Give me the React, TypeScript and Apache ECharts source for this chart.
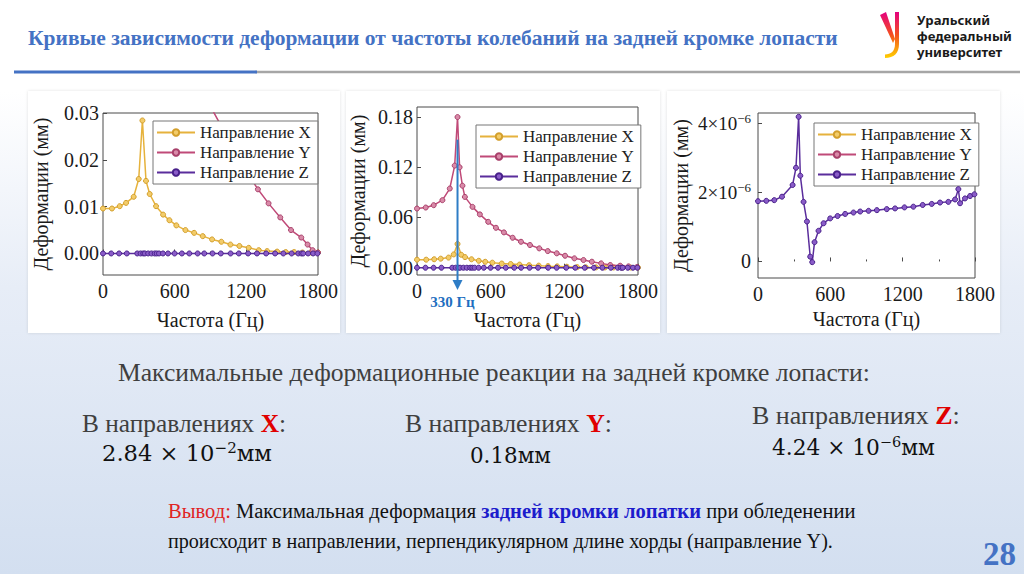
import React, { useEffect, useRef } from 'react';
import * as echarts from 'echarts';

// ---------- data ----------
const SERIES_NAMES = ['Направление X', 'Направление Y', 'Направление Z'];

// X direction (charts 1 & 2), Hz / mm
const FREQ_X = [0, 75, 140, 193, 257, 299, 330, 360, 391, 444, 503, 556, 614, 690, 763, 835, 913, 991, 1067, 1142, 1220, 1304, 1374, 1458, 1530, 1600, 1670, 1740, 1800];
const DEF_X = [0.0096, 0.0096, 0.0101, 0.0108, 0.0121, 0.0159, 0.0284, 0.0155, 0.0127, 0.0101, 0.0083, 0.0071, 0.006, 0.005, 0.0044, 0.0037, 0.003, 0.0025, 0.0019, 0.0016, 0.0012, 0.0007, 0.0005, 0.0004, 0.0003, 0.0003, 0.0002, 0.0002, 0.0002];

// Y direction as drawn in chart 1
const FREQ_Y1 = [780, 860, 926, 990, 1060, 1130, 1210, 1297, 1386, 1484, 1574, 1660, 1713, 1755, 1800];
const DEF_Y1 = [0.04, 0.0345, 0.0302, 0.0272, 0.0238, 0.0206, 0.0172, 0.0137, 0.0107, 0.0077, 0.005, 0.0034, 0.0019, 0.0007, 0.0002];

// Y direction as drawn in chart 2
const FREQ_Y2 = [0, 71, 136, 207, 267, 307, 330, 347, 370, 390, 452, 512, 580, 643, 708, 779, 847, 920, 996, 1065, 1138, 1206, 1282, 1356, 1424, 1500, 1574, 1655, 1723, 1792];
const DEF_Y2 = [0.0707, 0.0719, 0.0747, 0.0807, 0.0946, 0.122, 0.18, 0.12, 0.098, 0.0846, 0.0727, 0.0637, 0.0548, 0.0477, 0.0422, 0.0358, 0.031, 0.0271, 0.0231, 0.0199, 0.0172, 0.0143, 0.0112, 0.0092, 0.0072, 0.0052, 0.0032, 0.0024, 0.0016, 0.0008];

// Z direction (all charts)
const FREQ_Z = [0, 69, 135, 199, 287, 315, 337, 351, 378, 406, 433, 450, 469, 502, 544, 599, 660, 723, 792, 848, 917, 986, 1068, 1137, 1215, 1289, 1366, 1441, 1510, 1579, 1635, 1662, 1676, 1717, 1759, 1795];
const DEF_Z = [1.75e-6, 1.76e-6, 1.78e-6, 1.88e-6, 2.22e-6, 2.72e-6, 4.2e-6, 2.49e-6, 1.73e-6, 1.16e-6, 0.14e-6, -0.02e-6, 0.56e-6, 0.89e-6, 1.11e-6, 1.25e-6, 1.32e-6, 1.38e-6, 1.42e-6, 1.45e-6, 1.47e-6, 1.49e-6, 1.52e-6, 1.54e-6, 1.57e-6, 1.59e-6, 1.64e-6, 1.67e-6, 1.71e-6, 1.73e-6, 1.8e-6, 2.1e-6, 1.69e-6, 1.83e-6, 1.9e-6, 1.95e-6];

const X_TICKS = [0, 600, 1200, 1800];
const Y_TICKS_1 = [0, 0.01, 0.02, 0.03];
const Y_TICKS_2 = [0, 0.06, 0.12, 0.18];
const Y_TICKS_3 = [0, 2e-6, 4e-6];
const Y_RANGES = [[-0.0046, 0.03], [-0.0087, 0.192], [-0.48e-6, 4.31e-6]];

const PEAK_FREQ = 330;
const ARROW_TOP = 0.153;
const PEAK_LABEL = '330 Гц';
const LOGO_LINES = ['Уральский', 'федеральный', 'университет'];

// ---------- styling ----------
const SERIF = 'Liberation Serif, DejaVu Serif, serif';
const MATH = 'DejaVu Serif, Liberation Serif, serif';
const SANS = 'Noto Sans, DejaVu Sans, sans-serif';
const COLORS = [
  { line: '#e6b23c', fill: '#f3cc6a', border: '#d39f2c' },
  { line: '#c04a78', fill: '#d98aa8', border: '#a8406a' },
  { line: '#5a2d9c', fill: '#8a5cc8', border: '#48208a' },
];

const GRIDS = [
  { left: 103, top: 113, width: 215, height: 162 },
  { left: 417, top: 107, width: 221, height: 168 },
  { left: 758, top: 113, width: 217, height: 165 },
];
const LEGEND_POS = [[153, 121], [476, 125], [814, 123]];
const Y_NAME_GAP = [52, 49, 67];
const X_NAME_GAP = [35, 35, 31];
const Y_LABEL_MARGIN = [4, 4, 7];

const pairs = (f: number[], v: number[]) => f.map((x, i) => [x, v[i]]);

let measureCtx: CanvasRenderingContext2D | null = null;
function measure(text: string, font: string) {
  if (!measureCtx) measureCtx = document.createElement('canvas').getContext('2d');
  measureCtx!.font = font;
  return measureCtx!.measureText(text).width;
}

type Seg = { t: string; size: number; bold?: boolean; color: string; sup?: boolean; family?: string };

// A text line placed as an ECharts title component; the font size is tuned so the line spans targetW.
function textLine(x: number, yMid: number, targetW: number, segs: Seg[], lineH: number) {
  let total = 0;
  segs.forEach((s) => {
    total += measure(s.t, `${s.bold ? 'bold' : 'normal'} ${s.size}px ${s.family || SERIF}`);
  });
  const k = targetW / total;
  const rich: any = {};
  let str = '';
  segs.forEach((s, i) => {
    const key = 's' + i;
    const fs = s.size * k;
    rich[key] = {
      fontSize: fs,
      fontFamily: s.family || SERIF,
      fontWeight: s.bold ? 'bold' : 'normal',
      color: s.color,
      lineHeight: s.sup ? fs : lineH * k,
      verticalAlign: s.sup ? 'top' : 'middle',
    };
    str += `{${key}|${s.t}}`;
  });
  return {
    left: x,
    top: yMid - (lineH * k) / 2,
    padding: 0,
    itemGap: 0,
    z: 10,
    text: str,
    textStyle: { rich, lineHeight: lineH * k },
  };
}

const plain = (x: number, y: number, w: number, t: string, size: number, color: string, bold = false, family = SERIF, lineH = size + 2) =>
  textLine(x, y, w, [{ t, size, color, bold, family }], lineH);

function logoText() {
  const w = measure(LOGO_LINES[1], `bold 16px ${SANS}`);
  const fs = (16 * 95) / w;
  return {
    left: 917,
    top: 12,
    padding: 0,
    z: 10,
    text: LOGO_LINES.join('\n'),
    textStyle: { fontFamily: SANS, fontWeight: 'bold', fontSize: fs, lineHeight: 16, color: '#1a1a1a' },
  };
}

let logoRegistered = false;
function registerLogo() {
  if (logoRegistered) return;
  const d = 'M0 3 L6 0 L15 27 L13 31 Z M15 0 L19 0 L19 32 C19 41 14 46 5 46 L5 42.5 C11 42.5 15 39 15 32 Z';
  echarts.graphic.registerShape('ufuLogo', echarts.graphic.extendPath(d, {}) as any);
  logoRegistered = true;
}

function slideTitles() {
  const gray = '#3f3f3f';
  const red = '#e00000';
  const dir = (x: number, y: number, w: number, letter: string) =>
    textLine(x, y, w, [
      { t: 'В направлениях ', size: 26, color: gray },
      { t: letter, size: 26, color: red, bold: true },
      { t: ':', size: 26, color: gray },
    ], 26);
  const formula = (x: number, y: number, w: number, mant: string, exp: string) =>
    textLine(x, y, w, [
      { t: mant + ' × 10', size: 21, color: '#111', family: MATH },
      { t: exp, size: 14, color: '#111', sup: true, family: MATH },
      { t: 'мм', size: 21, color: '#111', family: MATH },
    ], 24);
  return [
    plain(28, 38, 810, 'Кривые зависимости деформации от частоты колебаний на задней кромке лопасти', 24, '#4472c4', true),
    logoText(),
    plain(118, 372, 752, 'Максимальные деформационные реакции на задней кромке лопасти:', 26, gray),
    dir(82, 423, 204, 'X'),
    dir(405, 423, 207, 'Y'),
    dir(752, 415, 208, 'Z'),
    formula(102, 453, 170, '2.84', '−2'),
    plain(470, 455, 81, '0.18мм', 21, '#111', false, MATH, 24),
    formula(772, 447, 163, '4.24', '−6'),
    textLine(168, 511, 688, [
      { t: 'Вывод:', size: 21, color: '#e02424' },
      { t: ' Максимальная деформация ', size: 21, color: '#111' },
      { t: 'задней кромки лопатки', size: 21, color: '#1c1ccc', bold: true },
      { t: ' при обледенении', size: 21, color: '#111' },
    ], 24),
    plain(168, 541, 665, 'происходит в направлении, перпендикулярном длине хорды (направление Y).', 21, '#111'),
    textLine(983, 554, 33, [{ t: '28', size: 36, color: '#4472c4', bold: true }], 32),
  ];
}

function slideGraphics() {
  const els: any[] = [];
  els.push({
    type: 'rect',
    z: -5,
    shape: { x: 0, y: 0, width: 1024, height: 574 },
    style: {
      fill: new echarts.graphic.LinearGradient(0, 0, 0, 1, [
        { offset: 0, color: '#ffffff' },
        { offset: 0.16, color: '#ffffff' },
        { offset: 0.5, color: '#e7edf7' },
        { offset: 1, color: '#d3dff0' },
      ]),
    },
  });
  const panels = [[28, 91, 312, 242], [346, 91, 314, 242], [667, 91, 333, 242]];
  panels.forEach(([x, y, w, h]) =>
    els.push({
      type: 'rect',
      z: -4,
      shape: { x, y, width: w, height: h },
      style: { fill: '#ffffff', shadowBlur: 3, shadowColor: 'rgba(0,0,0,0.12)' },
    })
  );
  els.push({ type: 'line', z: 10, shape: { x1: 255, y1: 72, x2: 1020, y2: 72 }, style: { stroke: '#a6a6a6', lineWidth: 2.5 } });
  els.push({ type: 'line', z: 10, shape: { x1: 14, y1: 72, x2: 257, y2: 72 }, style: { stroke: '#4472c4', lineWidth: 3 } });
  els.push({
    type: 'ufuLogo',
    z: 10,
    x: 880,
    y: 12,
    scaleX: 1,
    scaleY: 1,
    style: {
      fill: new echarts.graphic.LinearGradient(0, 0, 0, 1, [
        { offset: 0, color: '#e4007f' },
        { offset: 0.5, color: '#f4511e' },
        { offset: 1, color: '#ffd000' },
      ]),
    },
  });
  return els;
}

function buildOption() {
  const yTicks = [Y_TICKS_1, Y_TICKS_2, Y_TICKS_3];
  const yFmt = [
    (v: number) => v.toFixed(2),
    (v: number) => v.toFixed(2),
    (v: number) => (v === 0 ? '0' : `{b|${Math.round(v / 1e-6)}×10}{s|−6}`),
  ];
  const seriesData = [
    [pairs(FREQ_X, DEF_X), pairs(FREQ_Y1, DEF_Y1), pairs(FREQ_Z, DEF_Z)],
    [pairs(FREQ_X, DEF_X), pairs(FREQ_Y2, DEF_Y2), pairs(FREQ_Z, DEF_Z)],
    [pairs(FREQ_X, DEF_X), pairs(FREQ_Y2, DEF_Y2), pairs(FREQ_Z, DEF_Z)],
  ];
  const series: any[] = [];
  seriesData.forEach((chart, ci) => {
    chart.forEach((data, si) => {
      series.push({
        type: 'line',
        name: SERIES_NAMES[si],
        xAxisIndex: ci,
        yAxisIndex: ci,
        data,
        clip: true,
        symbol: 'circle',
        symbolSize: 5,
        showSymbol: true,
        lineStyle: { color: COLORS[si].line, width: 1.5 },
        itemStyle: { color: COLORS[si].fill, borderColor: COLORS[si].border, borderWidth: 1 },
        emphasis: { disabled: true },
        z: 2 + si,
      });
    });
  });

  return {
    animation: false,
    backgroundColor: 'transparent',
    title: slideTitles(),
    grid: GRIDS.map((g) => ({ ...g, show: true, borderColor: '#4a4a4a', borderWidth: 1, backgroundColor: 'transparent', containLabel: false })),
    xAxis: GRIDS.map((_, i) => ({
      type: 'value',
      gridIndex: i,
      min: X_TICKS[0],
      max: X_TICKS[X_TICKS.length - 1],
      interval: X_TICKS[1] - X_TICKS[0],
      name: 'Частота (Гц)',
      nameLocation: 'middle',
      nameGap: X_NAME_GAP[i],
      nameTextStyle: { fontFamily: SERIF, fontSize: 20, color: '#1a1a1a' },
      axisLine: { show: false },
      axisTick: { show: true, inside: true, length: 4, lineStyle: { color: '#4a4a4a' } },
      minorTick: { show: true, splitNumber: 2, length: 2, lineStyle: { color: '#4a4a4a' } },
      splitLine: { show: false },
      axisLabel: { fontFamily: SERIF, fontSize: 20, color: '#1a1a1a', margin: 6, formatter: (v: number) => String(v) },
    })),
    yAxis: GRIDS.map((_, i) => ({
      type: 'value',
      gridIndex: i,
      min: Y_RANGES[i][0],
      max: Y_RANGES[i][1],
      name: 'Деформации (мм)',
      nameLocation: 'middle',
      nameGap: Y_NAME_GAP[i],
      nameTextStyle: { fontFamily: SERIF, fontSize: 20, color: '#1a1a1a' },
      axisLine: { show: false },
      axisTick: { show: true, inside: true, length: 4, customValues: yTicks[i], lineStyle: { color: '#4a4a4a' } },
      splitLine: { show: false },
      axisLabel: {
        customValues: yTicks[i],
        formatter: yFmt[i],
        fontFamily: SERIF,
        fontSize: 20,
        color: '#1a1a1a',
        margin: Y_LABEL_MARGIN[i],
        rich: {
          b: { fontFamily: SERIF, fontSize: 19, color: '#1a1a1a', lineHeight: 24, verticalAlign: 'middle' },
          s: { fontFamily: SERIF, fontSize: 13, color: '#1a1a1a', lineHeight: 13, verticalAlign: 'top' },
        },
      },
    })),
    legend: LEGEND_POS.map(([l, t]) => ({
      left: l,
      top: t,
      orient: 'vertical',
      data: SERIES_NAMES,
      itemWidth: 38,
      itemHeight: 8,
      itemGap: 3,
      padding: [3, 7, 3, 3],
      backgroundColor: '#ffffff',
      borderColor: '#777777',
      borderWidth: 1,
      borderRadius: 0,
      selectedMode: false,
      textStyle: { fontFamily: SERIF, fontSize: 17, color: '#222' },
    })),
    series,
    graphic: { elements: slideGraphics() },
  };
}

export default function App() {
  const ref = useRef<HTMLDivElement>(null);
  useEffect(() => {
    if (!ref.current) return;
    registerLogo();
    const chart = echarts.init(ref.current, undefined, { renderer: 'svg' });
    const option: any = buildOption();
    chart.setOption(option);

    // arrow marking the resonance frequency in chart 2, placed through the chart's own scales
    const top = chart.convertToPixel({ xAxisIndex: 1, yAxisIndex: 1 } as any, [PEAK_FREQ, ARROW_TOP]) as number[];
    const base = chart.convertToPixel({ xAxisIndex: 1, yAxisIndex: 1 } as any, [PEAK_FREQ, Y_RANGES[1][0]]) as number[];
    const px = top[0];
    const tipY = base[1] + 15;
    const arrowColor = '#2e7dc6';
    const extra = [
      { type: 'line', z: 20, shape: { x1: px, y1: top[1], x2: px, y2: tipY - 6 }, style: { stroke: arrowColor, lineWidth: 2 } },
      { type: 'polygon', z: 20, shape: { points: [[px - 5, tipY - 10], [px + 5, tipY - 10], [px, tipY]] }, style: { fill: arrowColor } },
      {
        type: 'text',
        z: 20,
        x: px - 5,
        y: tipY + 12,
        style: { text: PEAK_LABEL, fontFamily: SERIF, fontSize: 15, fontWeight: 'bold', fill: '#1f6fc0', align: 'center', verticalAlign: 'middle' },
      },
    ];
    chart.setOption({ graphic: { elements: [...option.graphic.elements, ...extra] } });
    return () => chart.dispose();
  }, []);
  return (
    <div
      ref={ref}
      style={{ position: 'absolute', left: 0, top: 0, width: 1024, height: 574, background: '#ffffff' }}
    />
  );
}
